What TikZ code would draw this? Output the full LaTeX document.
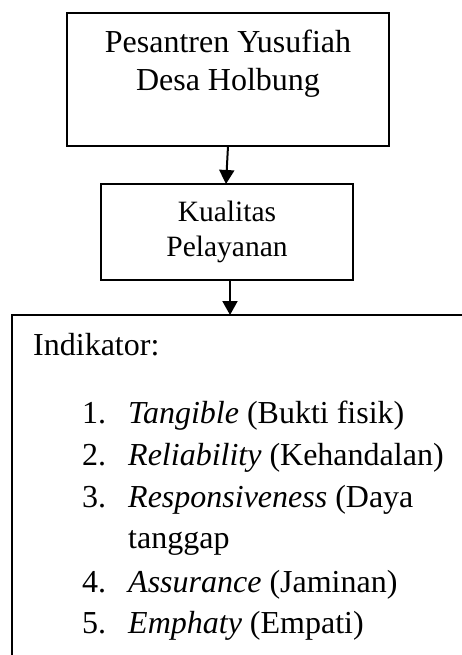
\documentclass[tikz,border=0pt]{standalone}
\usepackage{fontspec}
\setmainfont{Liberation Serif}
\usetikzlibrary{arrows.meta}
\begin{document}
\begin{tikzpicture}[x=1pt,y=-1pt,
  box/.style={draw,line width=2pt,inner sep=0pt,outer sep=0pt},
  big/.style={font=\fontsize{32}{38}\selectfont,inner sep=0pt},
  small/.style={font=\fontsize{29.5}{34}\selectfont,inner sep=0pt},
  arr/.style={line width=2pt,-{Triangle[width=15pt,length=14pt]}}]
\useasboundingbox (0,0) rectangle (462,655);
\clip (0,0) rectangle (462,655);
\node[box, minimum width=322pt, minimum height=133pt] (top) at (228,79.5) {};
\node[box, minimum width=252pt, minimum height=96pt] (mid) at (227,232) {};
\node[box, minimum width=468pt, minimum height=365pt] (ind) at (246,497.5) {};
\node[big, anchor=base] (t1) at (228,52.7) {Pesantren Yusufiah};
\node[big, anchor=base] (t2) at (228,90.7) {Desa Holbung};
\node[small, anchor=base] (m1) at (227,221.7) {Kualitas};
\node[small, anchor=base] (m2) at (227,256) {Pelayanan};
\node[big, anchor=base west] (h) at (33,355) {Indikator:};
\node[big, anchor=base west] (n1) at (82,423) {1.};
\node[big, anchor=base west] (i1) at (128,423) {\textit{Tangible} (Bukti fisik)};
\node[big, anchor=base west] (n2) at (82,465) {2.};
\node[big, anchor=base west] (i2) at (128,465) {\textit{Reliability} (Kehandalan)};
\node[big, anchor=base west] (n3) at (82,507) {3.};
\node[big, anchor=base west] (i3) at (128,507) {\textit{Responsiveness} (Daya};
\node[big, anchor=base west] (i3b) at (128,548) {tanggap};
\node[big, anchor=base west] (n4) at (82,592) {4.};
\node[big, anchor=base west] (i4) at (128,592) {\textit{Assurance} (Jaminan)};
\node[big, anchor=base west] (n5) at (82,633) {5.};
\node[big, anchor=base west] (i5) at (128,633) {\textit{Emphaty} (Empati)};
\draw[arr] (top.south) -- ([xshift=-1pt]mid.north);
\draw[arr] ([xshift=3pt]mid.south) -- ([xshift=3pt]mid.south |- ind.north);
\end{tikzpicture}
\end{document}
